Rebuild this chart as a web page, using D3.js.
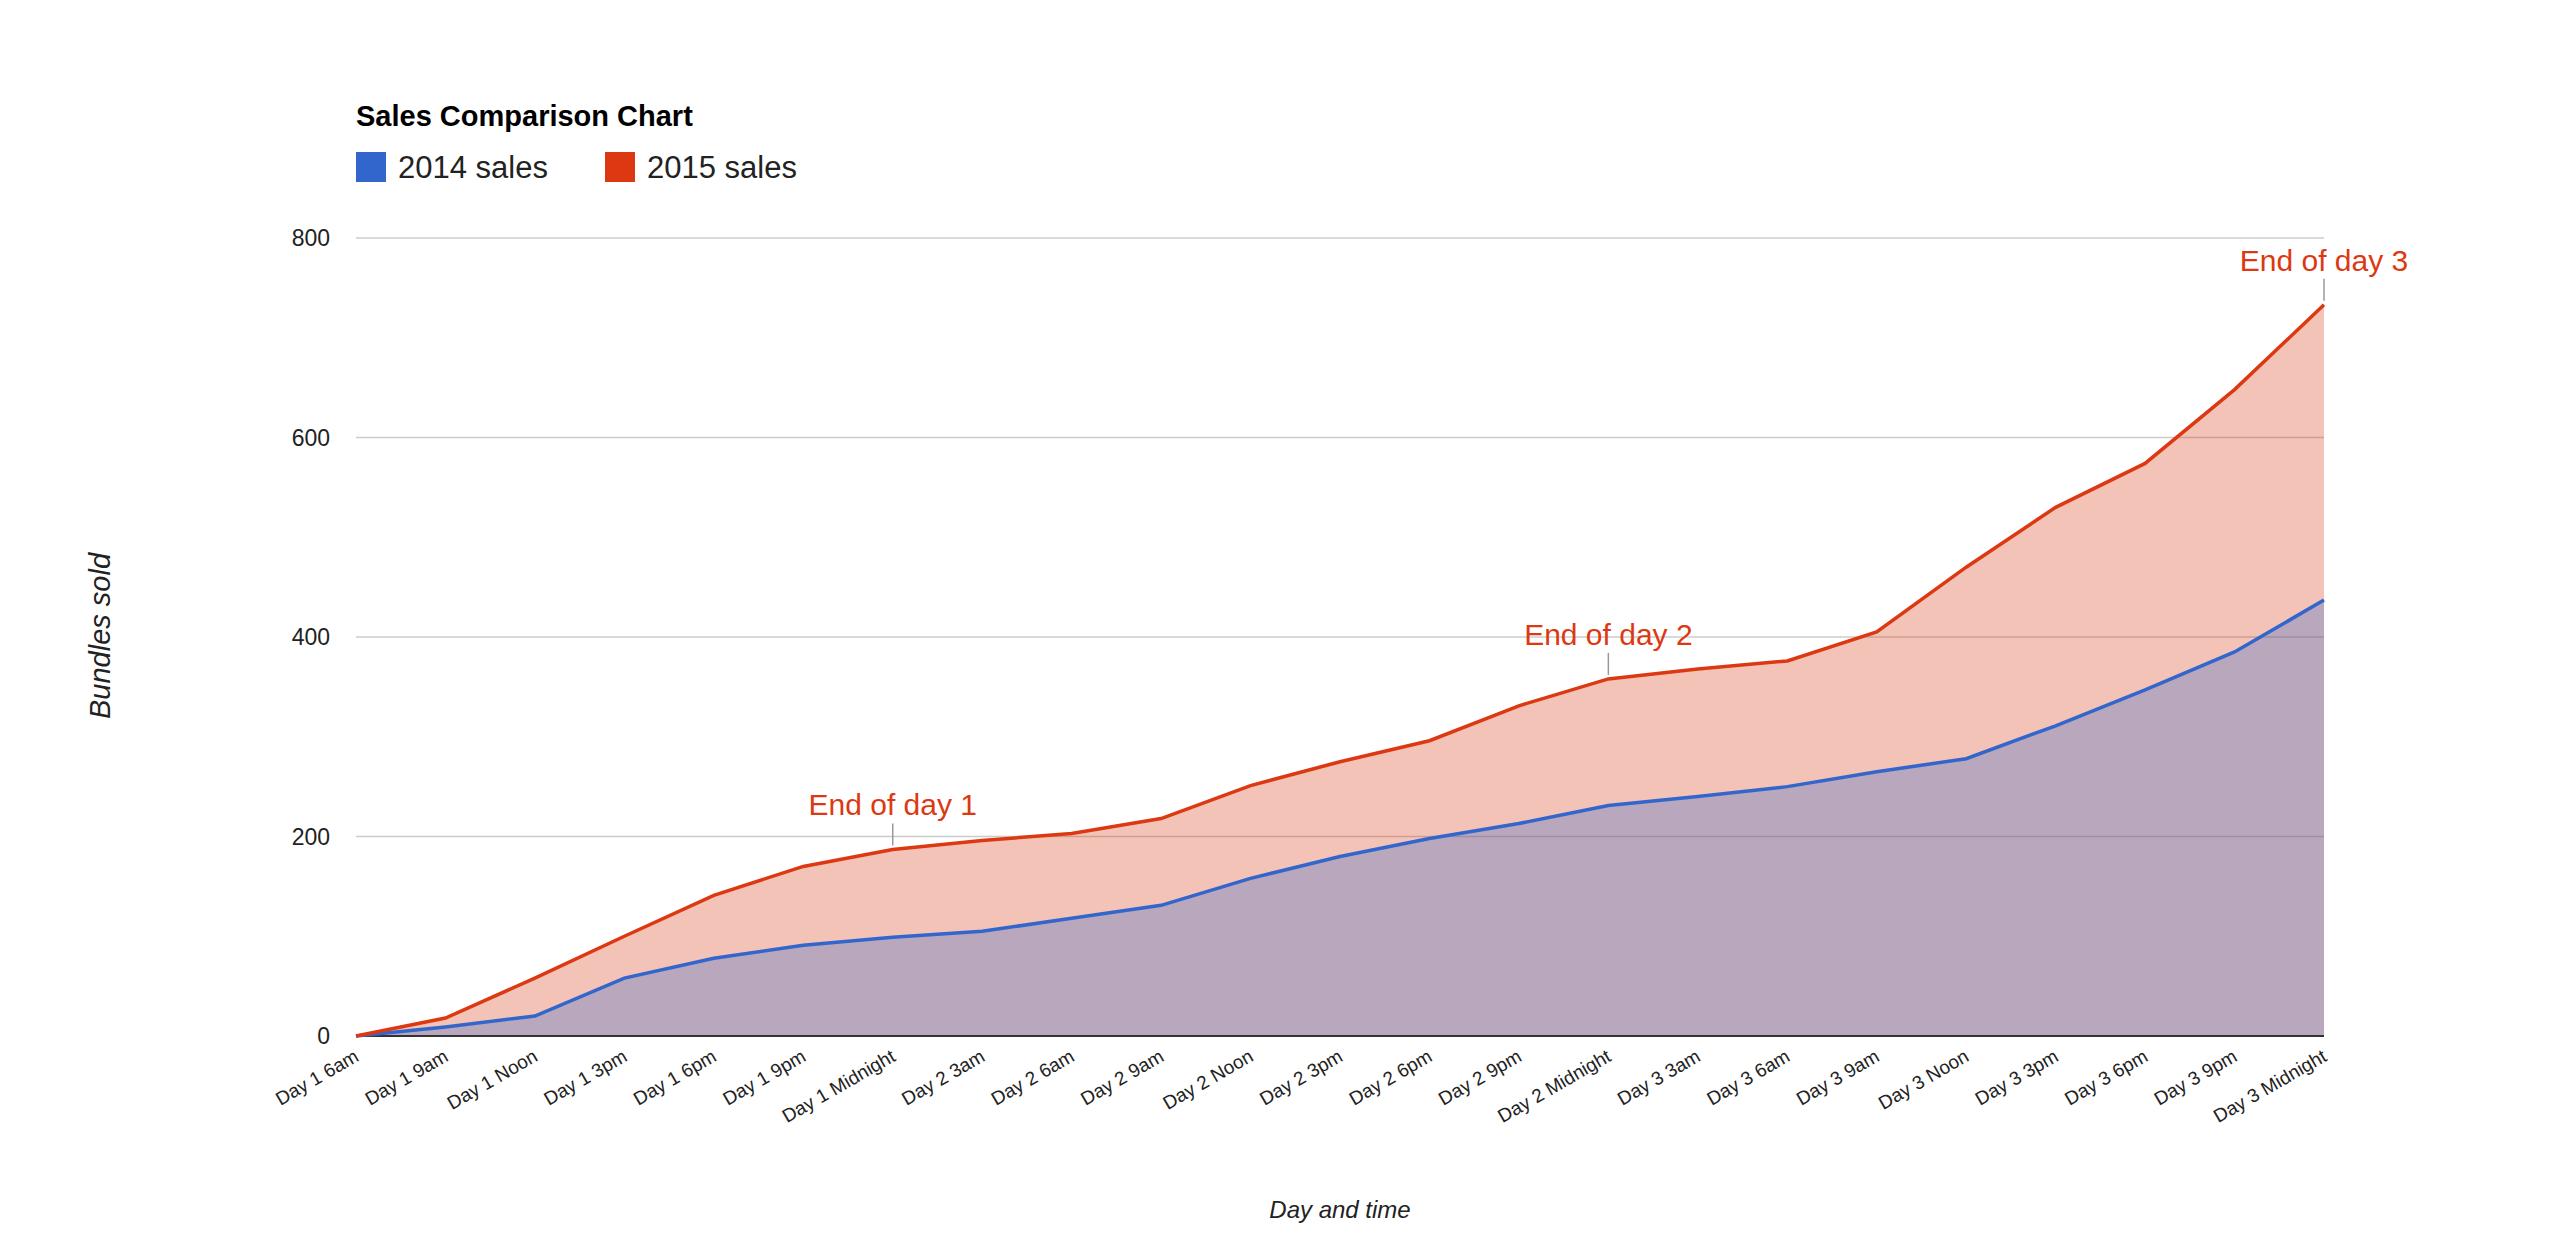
<!DOCTYPE html>
<html><head><meta charset="utf-8">
<script src="https://cdn.jsdelivr.net/npm/d3@7"></script>
<style>body{margin:0;background:#fff;font-family:Arial,"Liberation Sans",sans-serif}</style>
</head><body><svg id="c" width="2570" height="1258"></svg>
<script>
const categories=["Day 1 6am","Day 1 9am","Day 1 Noon","Day 1 3pm","Day 1 6pm","Day 1 9pm","Day 1 Midnight","Day 2 3am","Day 2 6am","Day 2 9am","Day 2 Noon","Day 2 3pm","Day 2 6pm","Day 2 9pm","Day 2 Midnight","Day 3 3am","Day 3 6am","Day 3 9am","Day 3 Noon","Day 3 3pm","Day 3 6pm","Day 3 9pm","Day 3 Midnight"];
const sales2014=[0,9,20,58,78,91,99,105,118,131,158,180,198,213,231,240,250,265,278,311,347,385,437];
const sales2015=[0,18,58,100,141,170,187,196,203,218,251,275,296,331,358,368,376,405,470,530,574,648,733];
const yTicks=[0,200,400,600,800];
const annotations=[{i:6,text:"End of day 1"},{i:14,text:"End of day 2"},{i:22,text:"End of day 3"}];

const svg=d3.select("#c");
const L=356,R=2324,T=238,B=1036;
const x=d3.scalePoint().domain(categories).range([L,R]);
const y=d3.scaleLinear().domain([0,800]).range([B,T]);
const blue="#3366cc",red="#dc3912";
svg.append("g").selectAll("line").data(yTicks.slice(1)).join("line")
 .attr("x1",L).attr("x2",R).attr("y1",d=>y(d)).attr("y2",d=>y(d)).attr("stroke","#cccccc").attr("stroke-width",1.5);
svg.append("g").selectAll("text").data(yTicks).join("text")
 .attr("x",330).attr("y",d=>y(d)+8).attr("text-anchor","end").attr("font-size",23).attr("fill","#222").text(d=>d);
const area=v=>d3.area().x((d,i)=>x(categories[i])).y0(y(0)).y1(d=>y(d))(v);
const line=v=>d3.line().x((d,i)=>x(categories[i])).y(d=>y(d))(v);
svg.append("path").attr("d",area(sales2015)).attr("fill",red).attr("fill-opacity",0.3);
svg.append("path").attr("d",area(sales2014)).attr("fill",blue).attr("fill-opacity",0.3);
svg.append("line").attr("x1",L).attr("x2",R).attr("y1",B).attr("y2",B).attr("stroke","#333").attr("stroke-width",2);
svg.append("path").attr("d",line(sales2014)).attr("fill","none").attr("stroke",blue).attr("stroke-width",3.5);
svg.append("path").attr("d",line(sales2015)).attr("fill","none").attr("stroke",red).attr("stroke-width",3.5);
// annotations
annotations.forEach(a=>{
 const px=x(categories[a.i]),py=y(sales2015[a.i]);
 svg.append("line").attr("x1",px).attr("x2",px).attr("y1",py-4).attr("y2",py-26).attr("stroke","#999").attr("stroke-width",1.5);
 svg.append("text").attr("x",px).attr("y",py-34).attr("text-anchor","middle").attr("font-size",30).attr("fill",red).text(a.text);
});
// x labels
svg.append("g").selectAll("text").data(categories).join("text")
 .attr("transform",d=>`translate(${x(d)+4},${B+24}) rotate(-30)`).attr("text-anchor","end")
 .attr("font-size",19).attr("fill","#222").text(d=>d);
// titles
svg.append("text").attr("x",356).attr("y",126).attr("font-size",29).attr("font-weight","bold").text("Sales Comparison Chart");
[[2014,blue,356],[2015,red,605]].forEach(([yr,c,lx])=>{
 svg.append("rect").attr("x",lx).attr("y",152).attr("width",30).attr("height",30).attr("fill",c);
 svg.append("text").attr("x",lx+42).attr("y",178).attr("font-size",31).attr("fill","#222").text(yr+" sales");
});
svg.append("text").attr("transform","translate(110,636) rotate(-90)").attr("text-anchor","middle").attr("font-size",29).attr("font-style","italic").attr("fill","#222").text("Bundles sold");
svg.append("text").attr("x",1340).attr("y",1218).attr("text-anchor","middle").attr("font-size",24).attr("font-style","italic").attr("fill","#222").text("Day and time");
</script></body></html>
